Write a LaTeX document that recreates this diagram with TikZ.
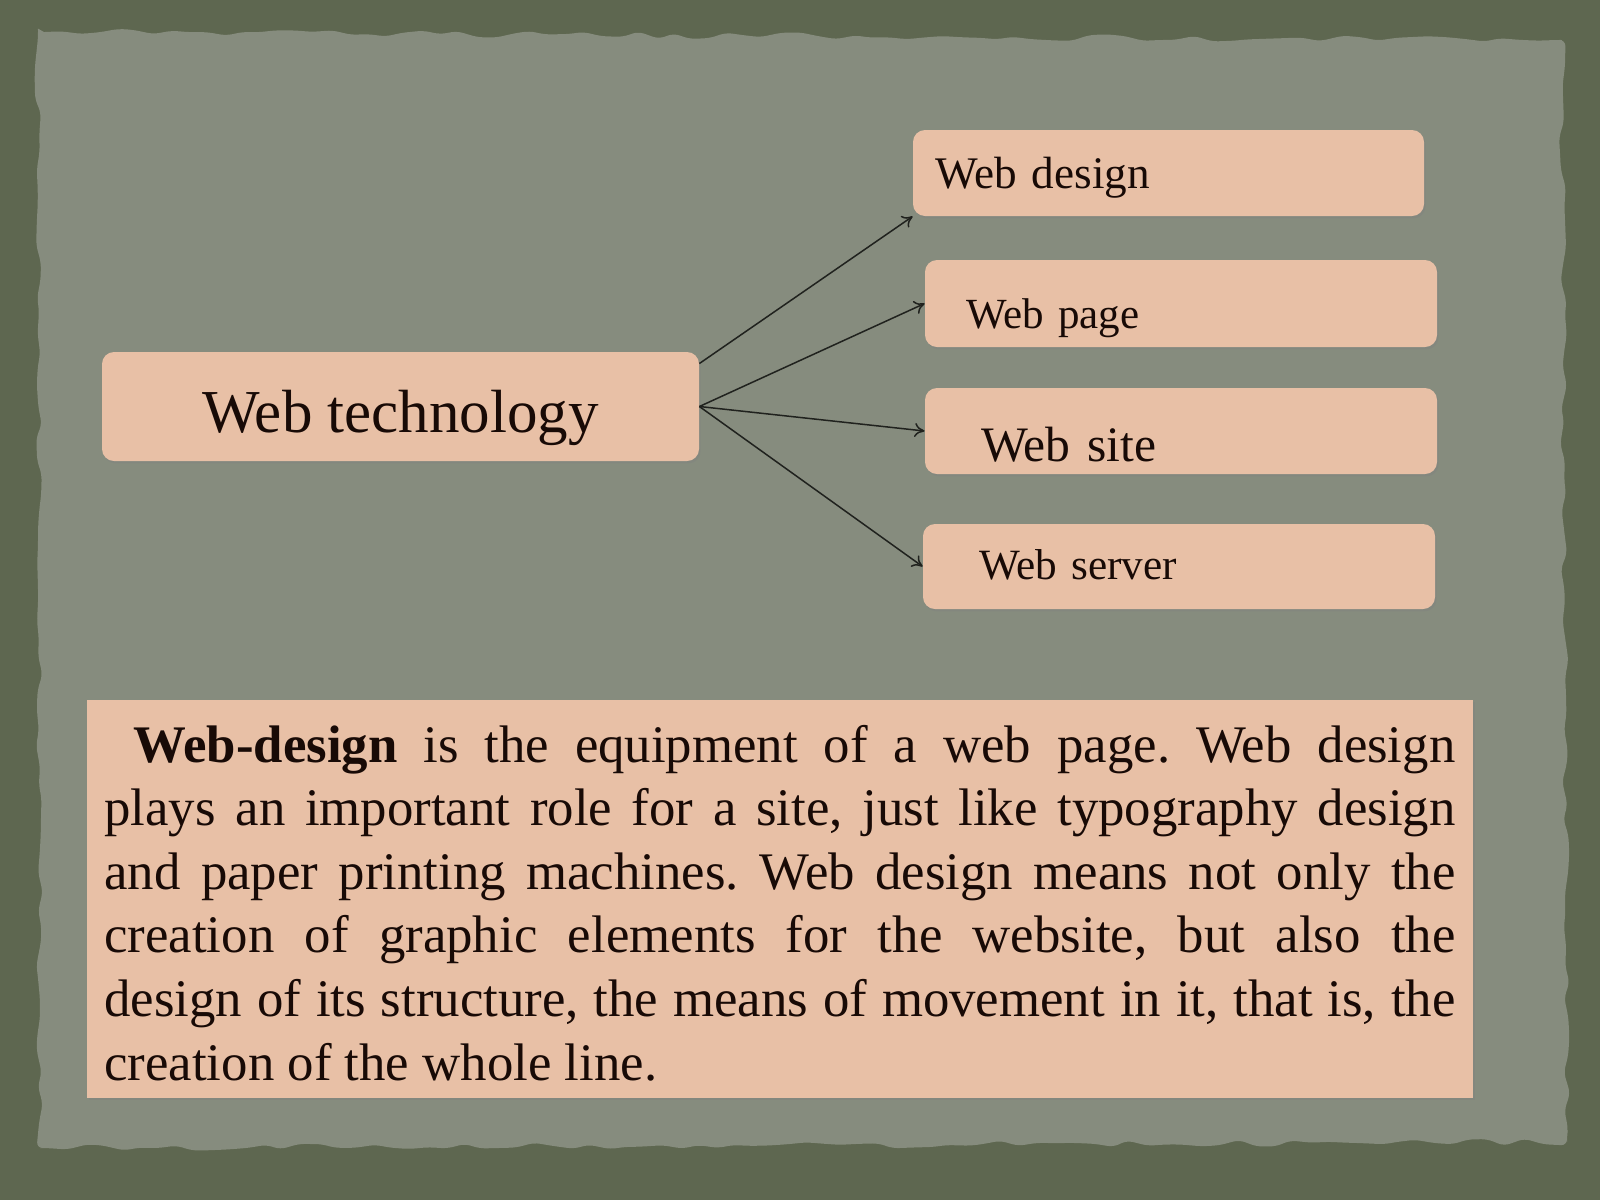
\documentclass[tikz,border=0pt]{standalone}
\usepackage{fontspec}
\setmainfont{Liberation Serif}
\usetikzlibrary{shadows,decorations.pathmorphing,calc,arrows.meta}
\definecolor{outerbg}{RGB}{94,103,80}
\definecolor{panelbg}{RGB}{134,140,126}
\definecolor{peach}{RGB}{232,192,166}
\definecolor{ink}{RGB}{24,10,6}
\definecolor{arrowc}{RGB}{32,34,30}
\begin{document}
\frenchspacing
\begin{tikzpicture}[x=0.5pt,y=-0.5pt,
  box/.style={fill=peach, rounded corners=6pt, text=ink, inner ysep=0pt,
    drop shadow={shadow xshift=0.8pt, shadow yshift=-1.2pt, opacity=0.35}},
  sidebox/.style={box, minimum width=256pt, align=left},
  conn/.style={draw=arrowc, line width=0.75pt, -{To[length=5pt,width=7pt]}}]
\pgfmathsetseed{7}
\useasboundingbox (0,0) rectangle (1600,1200);
\fill[outerbg] (0,0) rectangle (1600,1200);
\fill[panelbg, decorate, decoration={random steps, segment length=9pt, amplitude=1.8pt}, rounded corners=3pt]
  (38,32) -- (1562,40) -- (1567,1142) -- (40,1148) -- cycle;

% main node
\node[box, minimum width=298.5pt, minimum height=54.5pt, inner xsep=0pt,
      text height=25.5pt, text depth=0pt, font=\fontsize{30.5pt}{36pt}\selectfont]
  (tech) at (400.5,406.5) {Web technology};

% side nodes
\node[sidebox, minimum width=255.5pt, minimum height=43pt, inner xsep=11pt, text width=233.5pt,
      text height=15pt, text depth=0pt, font=\fontsize{22.6pt}{27pt}\selectfont]
  (design) at (1168.5,173) {Web design};
\node[sidebox, minimum height=43.5pt, inner xsep=20.5pt, text width=215pt,
      text height=24.5pt, text depth=0pt, font=\fontsize{21.5pt}{26pt}\selectfont]
  (page) at (1181,303.5) {Web page};
\node[sidebox, minimum height=43pt, inner xsep=28pt, text width=200pt,
      text height=30pt, text depth=0pt, font=\fontsize{24.8pt}{30pt}\selectfont]
  (site) at (1181,431) {Web site};
\node[sidebox, minimum height=42.5pt, inner xsep=28pt, text width=200pt,
      text height=12.5pt, text depth=0pt, font=\fontsize{21.6pt}{26pt}\selectfont]
  (server) at (1179,566.5) {Web server};

% connectors
\draw[conn] ([yshift=21.5pt]tech.east) -- (design.south west);
\draw[conn] (tech.east) -- (page.west);
\draw[conn] (tech.east) -- (site.west);
\draw[conn] (tech.east) -- (server.west);

% text box
\node[fill=peach, minimum width=693pt, minimum height=199pt, inner sep=0pt,
      drop shadow={shadow xshift=0.8pt, shadow yshift=-1.2pt, opacity=0.35}]
  (textbox) at (780,899) {};
\node[anchor=base west, inner sep=0pt, text=ink, font=\fontsize{26.4pt}{31.8pt}\selectfont]
  (para) at (104,762) {\parbox[t]{675.5pt}{\fontsize{26.4pt}{31.8pt}\selectfont
  \frenchspacing\hyphenpenalty=10000\exhyphenpenalty=10000\parindent=0pt
  \hspace*{14.5pt}\textbf{Web-design} is the equipment of a web page. Web design\linebreak
  plays an important role for a site, just like typography design\linebreak
  and paper printing machines. Web design means not only the\linebreak
  creation of graphic elements for the website, but also the\linebreak
  design of its structure, the means of movement in it, that is, the\linebreak
  creation of the whole line.}};
\end{tikzpicture}
\end{document}
